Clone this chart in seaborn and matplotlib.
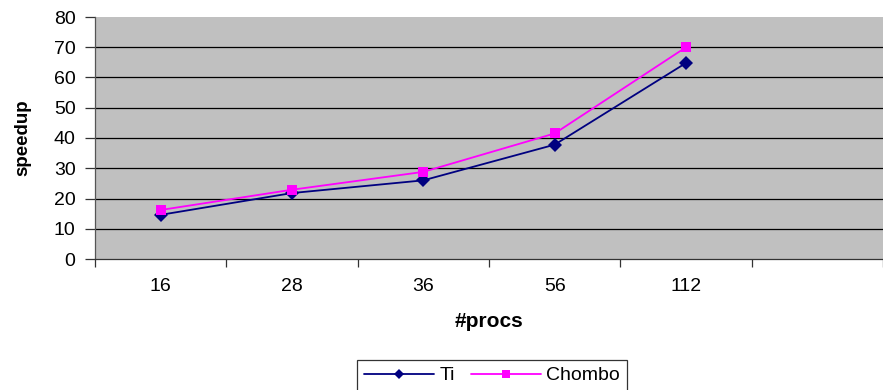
import pandas as pd
import numpy as np
import matplotlib.pyplot as plt
import seaborn as sns

procs = ['16', '28', '36', '56', '112']
ti_speedup = [14.6, 21.8, 26.0, 37.8, 64.8]
chombo_speedup = [16.2, 22.9, 28.8, 41.5, 70.0]
series_names = ['Ti', 'Chombo']

df = pd.DataFrame({
    'procs': procs * 2,
    'speedup': ti_speedup + chombo_speedup,
    'series': [series_names[0]] * len(procs) + [series_names[1]] * len(procs),
})

sns.set_style('white')
plt.rcParams['font.family'] = ['Liberation Sans', 'DejaVu Sans']
plt.rcParams['text.color'] = 'black'
plt.rcParams['axes.labelcolor'] = 'black'
plt.rcParams['xtick.color'] = 'black'
plt.rcParams['ytick.color'] = 'black'

fig = plt.figure(figsize=(8.83, 3.90), dpi=100)
ax = fig.add_axes([95 / 883, 131 / 390, 788 / 883, 242 / 390])
ax.set_facecolor('#C0C0C0')

sns.lineplot(data=df, x='procs', y='speedup', hue='series', style='series',
             palette={'Ti': '#000080', 'Chombo': '#FF00FF'},
             markers={'Ti': 'D', 'Chombo': 's'}, dashes=False,
             markersize=7, linewidth=1.3, markeredgewidth=0, ax=ax)

ax.set_ylim(0, 80)
ax.set_xlim(-0.5, -0.5 + 788 / 133.5)
ax.set_yticks(np.arange(0, 81, 10))
for yv in np.arange(10, 80, 10):
    ax.axhline(yv, color='black', linewidth=0.9, zorder=0.5)

ax.set_xticks(range(len(procs)))
ax.set_xticklabels(procs)
ax.set_xticks(np.arange(-0.5, 6, 1), minor=True)
ax.tick_params(axis='x', which='major', bottom=True, length=0, pad=14, labelsize=14)
ax.tick_params(axis='x', which='minor', bottom=True, length=6, width=0.9,
               color='#333333', direction='out')
ax.tick_params(axis='y', left=True, length=7, width=0.9, color='#333333',
               direction='out', labelsize=14, pad=7)

for s in ['top', 'right']:
    ax.spines[s].set_visible(False)
ax.spines['left'].set_color('#555555')
ax.spines['bottom'].set_color('#333333')
ax.spines['left'].set_linewidth(0.9)
ax.spines['bottom'].set_linewidth(0.9)

ax.set_xlabel('#procs', fontsize=15, fontweight='bold', labelpad=12)
ax.set_ylabel('speedup', fontsize=13.5, fontweight='bold', labelpad=16)

handles, labels = ax.get_legend_handles_labels()
ax.get_legend().remove()
leg = fig.legend(handles, labels, loc='upper center', bbox_to_anchor=(492 / 883, 30 / 390),
                 ncol=2, frameon=True, fancybox=False, edgecolor='black',
                 fontsize=14, handlelength=3.6, handletextpad=0.3, columnspacing=0.8,
                 borderpad=0.35, borderaxespad=0, markerscale=0.8)
leg.get_frame().set_linewidth(0.9)

fig.savefig('out.png', dpi=100)
